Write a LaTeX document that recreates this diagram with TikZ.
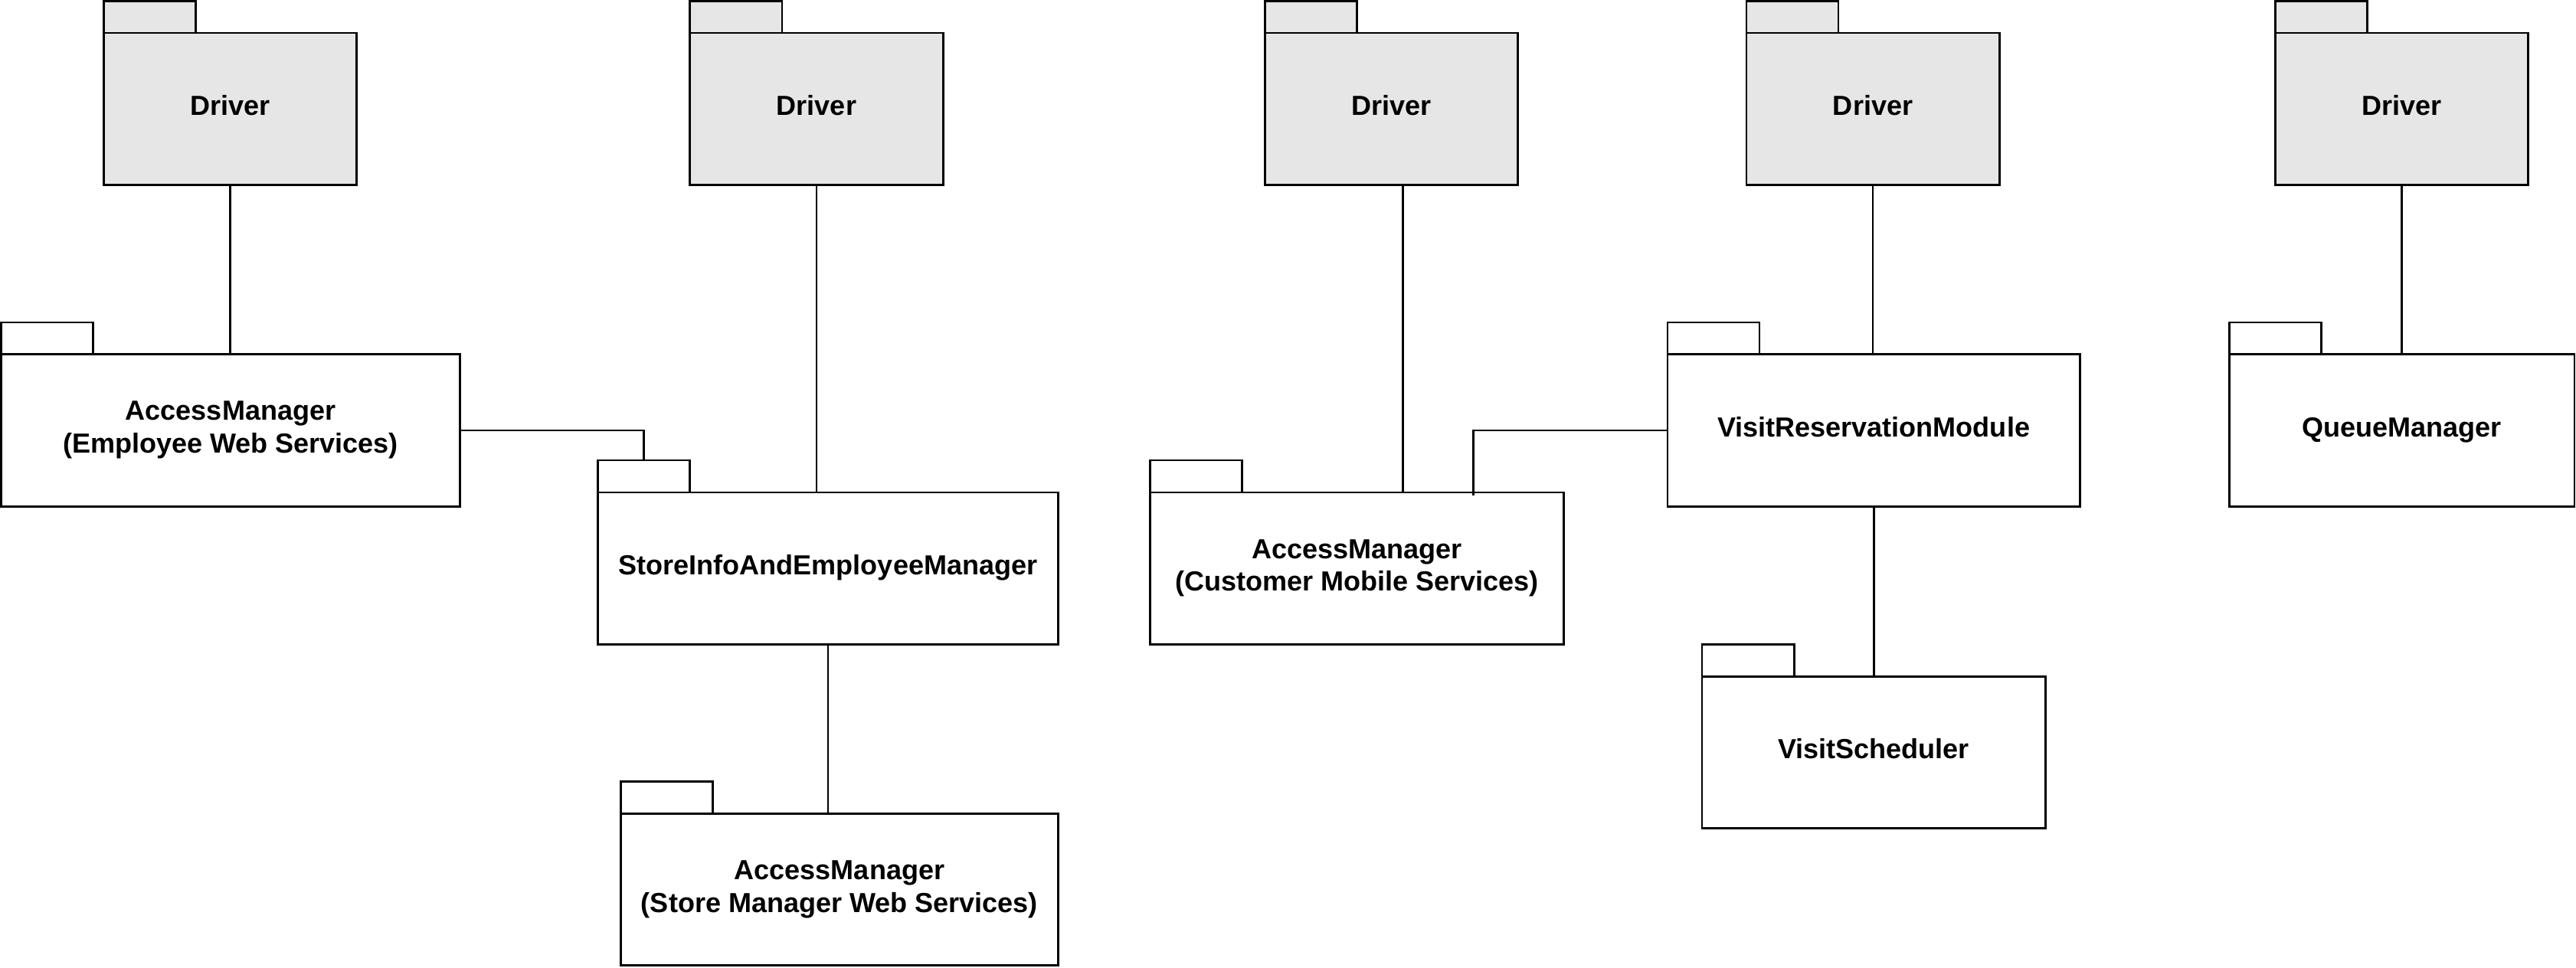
\documentclass[tikz,border=0pt]{standalone}
\usepackage{fontspec}
\setmainfont{Liberation Sans}
\definecolor{drvgray}{HTML}{E6E6E6}
\begin{document}
\begin{tikzpicture}[x=1pt,y=-1pt,
  pkg/.style={draw=black, line width=1.3pt, fill=white, outer sep=0pt, inner sep=0pt,
    font=\fontsize{16.8}{20}\selectfont\bfseries, align=center, text=black,
    text height=12pt, text depth=4.2pt, minimum height=92.5pt},
  twoline/.style={text height=32pt},
  drv/.style={pkg, fill=drvgray, minimum width=154pt},
  tabbox/.style={draw=black, line width=1.3pt, fill=white},
  drvtab/.style={tabbox, fill=drvgray},
  link/.style={draw=black, line width=1.3pt}
]
\useasboundingbox (0,0) rectangle (1568,589);

% Drivers
\node[drv] (d1) at (140,66.3) {Driver};
\node[drv] (d2) at (497,66.3) {Driver};
\node[drv] (d3) at (847,66.3) {Driver};
\node[drv] (d4) at (1140,66.3) {Driver};
\node[drv] (d5) at (1462,66.3) {Driver};
\foreach \n in {d1,d2,d3,d4,d5}{
  \draw[drvtab] (\n.north west) rectangle ++(56,-19.5);
}

% Packages
\node[pkg, twoline, minimum width=279.3pt] (am1) at (140.35,262) {AccessManager\\(Employee Web Services)};
\node[pkg, minimum width=280pt] (si) at (504,346) {StoreInfoAndEmployeeManager};
\node[pkg, twoline, minimum width=266pt] (ams) at (511,541.5) {AccessManager\\(Store Manager Web Services)};
\node[pkg, twoline, minimum width=252pt] (amc) at (826,346) {AccessManager\\(Customer Mobile Services)};
\node[pkg, minimum width=251pt] (vrm) at (1140.5,262) {VisitReservationModule};
\node[pkg, minimum width=209pt] (vs) at (1140.5,458) {VisitScheduler};
\node[pkg, minimum width=210pt] (qm) at (1462,262) {QueueManager};
\foreach \n in {am1,si,ams,amc,vrm,vs,qm}{
  \draw[tabbox] (\n.north west) rectangle ++(56,-19.5);
}

% Connector helper coordinates
\coordinate (sitab) at ([xshift=28pt,yshift=19.5pt]si.north west);
\coordinate (amcj) at ([xshift=197pt,yshift=-2pt]amc.north west);
\coordinate (d3off) at ([xshift=7pt]d3.south);

% Connectors
\draw[link] (d1.south) -- (d1.south |- am1.north);
\draw[link] (am1.east) -| (sitab);
\draw[link] (d2.south) -- (d2.south |- si.north);
\draw[link] (si.south) -- (si.south |- ams.north);
\draw[link] (d3off) -- (d3off |- amc.north);
\draw[link] (vrm.west) -| (amcj);
\draw[link] (d4.south) -- (d4.south |- vrm.north);
\draw[link] (vrm.south) -- (vrm.south |- vs.north);
\draw[link] (d5.south) -- (d5.south |- qm.north);
\end{tikzpicture}
\end{document}
